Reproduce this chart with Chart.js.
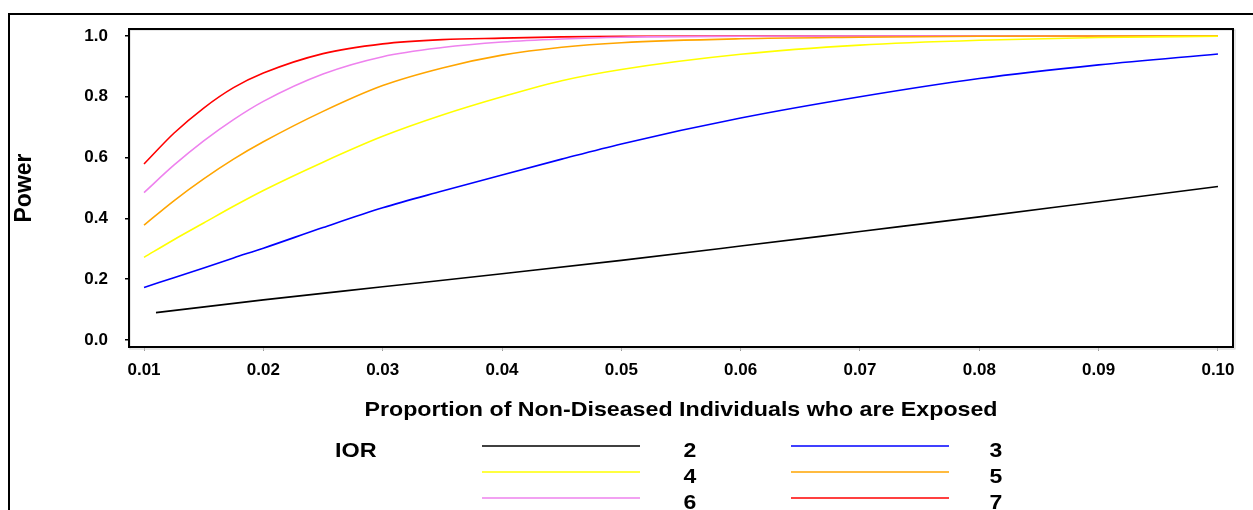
<!DOCTYPE html>
<html>
<head>
<meta charset="utf-8">
<script src="https://cdn.jsdelivr.net/npm/chart.js@4"></script>
<style>
  html, body { margin: 0; padding: 0; background: #fff; }
  canvas { display: block; }
</style>
</head>
<body>
<canvas id="c" width="1253" height="510"></canvas>
<script>
// ---- data ----
const xGrid = [0.01, 0.0125, 0.015, 0.0175, 0.02, 0.025, 0.03, 0.035, 0.04, 0.045, 0.05, 0.06, 0.07, 0.08, 0.09, 0.10];
const ior2X = [0.011, 0.02, 0.03, 0.04, 0.05, 0.06, 0.07, 0.08, 0.09, 0.10];
const ior2 = [0.090, 0.132, 0.175, 0.218, 0.262, 0.309, 0.357, 0.405, 0.455, 0.505];
const ior3 = [0.173, 0.205, 0.237, 0.270, 0.302, 0.370, 0.435, 0.490, 0.543, 0.595, 0.645, 0.730, 0.800, 0.860, 0.905, 0.941];
const ior4 = [0.272, 0.330, 0.385, 0.440, 0.492, 0.585, 0.670, 0.740, 0.800, 0.853, 0.890, 0.940, 0.970, 0.986, 0.995, 0.999];
const ior5 = [0.378, 0.458, 0.530, 0.595, 0.652, 0.752, 0.837, 0.895, 0.937, 0.963, 0.978, 0.991, 0.996, 0.999, 1.000, 1.000];
const ior6 = [0.485, 0.575, 0.655, 0.725, 0.785, 0.875, 0.932, 0.962, 0.980, 0.990, 0.996, 0.999, 1.000, 1.000, 1.000, 1.000];
const ior7 = [0.579, 0.680, 0.763, 0.830, 0.878, 0.942, 0.974, 0.988, 0.993, 0.997, 0.999, 1.000, 1.000, 1.000, 1.000, 1.000];
const seriesNames = ['2', '3', '4', '5', '6', '7'];
const xTickValues = [0.01, 0.02, 0.03, 0.04, 0.05, 0.06, 0.07, 0.08, 0.09, 0.10];
const xTickLabels = ['0.01', '0.02', '0.03', '0.04', '0.05', '0.06', '0.07', '0.08', '0.09', '0.10'];
const yTickValues = [0, 0.2, 0.4, 0.6, 0.8, 1.0];
const yTickLabels = ['0.0', '0.2', '0.4', '0.6', '0.8', '1.0'];
const xTitle = 'Proportion of Non-Diseased Individuals who are Exposed';
const yTitle = 'Power';
const legendTitle = 'IOR';

// ---- styles ----
const colors = ['#000000', '#0000ff', '#ffff00', '#ffa500', '#ee82ee', '#ff0000'];
const FONT = "'Liberation Sans', Arial, sans-serif";

function pts(xs, ys) { return xs.map((x, i) => ({ x: x, y: ys[i] })); }
const seriesData = [pts(ior2X, ior2), pts(xGrid, ior3), pts(xGrid, ior4), pts(xGrid, ior5), pts(xGrid, ior6), pts(xGrid, ior7)];

const datasets = seriesData.map((d, i) => ({
  label: seriesNames[i],
  data: d,
  borderColor: colors[i],
  backgroundColor: colors[i],
  borderWidth: 1.6,
  pointRadius: 0,
  fill: false,
  cubicInterpolationMode: 'monotone'
}));

function stretchedText(ctx, text, x, y, sx) {
  ctx.save();
  ctx.translate(x, y);
  ctx.scale(sx, 1);
  ctx.fillText(text, 0, 0);
  ctx.restore();
}

const decor = {
  id: 'decor',
  afterDraw(chart) {
    const ctx = chart.ctx;
    const a = chart.chartArea;
    ctx.save();
    // outer frame (top and left)
    ctx.strokeStyle = '#000';
    ctx.lineWidth = 2;
    ctx.beginPath();
    ctx.moveTo(9, 520); ctx.lineTo(9, 14); ctx.lineTo(1260, 14);
    ctx.stroke();
    // plot frame
    ctx.strokeStyle = '#cfcfcf';
    ctx.lineWidth = 1;
    ctx.strokeRect(a.left + 1, a.top + 1, a.right - a.left + 1, a.bottom - a.top + 1);
    ctx.strokeStyle = '#000';
    ctx.lineWidth = 2;
    ctx.strokeRect(a.left, a.top, a.right - a.left, a.bottom - a.top);
    // y title
    ctx.fillStyle = '#000';
    ctx.font = 'bold 23px ' + FONT;
    ctx.textAlign = 'center';
    ctx.textBaseline = 'middle';
    ctx.translate(25, 188);
    ctx.rotate(-Math.PI / 2);
    ctx.fillText(yTitle, 0, 0);
    ctx.restore();

    ctx.save();
    ctx.fillStyle = '#000';
    // x title
    ctx.font = 'bold 21px ' + FONT;
    ctx.textAlign = 'center';
    ctx.textBaseline = 'alphabetic';
    stretchedText(ctx, xTitle, 681, 416, 1.105);
    // legend
    ctx.font = 'bold 20px ' + FONT;
    ctx.textAlign = 'left';
    stretchedText(ctx, legendTitle, 335, 457, 1.17);
    const cols = [{ x0: 482, x1: 640, tx: 690 }, { x0: 791, x1: 949, tx: 996 }];
    const rows = [446, 472, 498];
    seriesNames.forEach((name, i) => {
      const c = cols[i % 2];
      const ry = rows[Math.floor(i / 2)];
      ctx.strokeStyle = colors[i];
      ctx.lineWidth = 1.6;
      ctx.beginPath();
      ctx.moveTo(c.x0, ry); ctx.lineTo(c.x1, ry);
      ctx.stroke();
      ctx.fillStyle = '#000';
      ctx.textAlign = 'center';
      stretchedText(ctx, name, c.tx, ry + 11, 1.15);
    });
    ctx.restore();
  }
};

new Chart(document.getElementById('c'), {
  type: 'line',
  data: { datasets: datasets },
  options: {
    responsive: false,
    animation: false,
    devicePixelRatio: 1,
    layout: { padding: { top: 29, right: 20, left: 0, bottom: 0 } },
    plugins: { legend: { display: false }, tooltip: { enabled: false }, title: { display: false } },
    scales: {
      x: {
        type: 'linear',
        min: 0.00874,
        max: 0.10126,
        afterFit(s) { s.height = 163; },
        afterBuildTicks(s) { s.ticks = xTickValues.map(v => ({ value: v })); },
        ticks: {
          callback(v, i) { return xTickLabels[i]; },
          font: { family: FONT, size: 17, weight: 'bold' },
          color: '#000',
          padding: 9,
          maxRotation: 0,
          autoSkip: false
        },
        grid: { drawOnChartArea: false, drawTicks: true, tickLength: 4, color: '#9a9a9a', lineWidth: 1 },
        border: { display: false }
      },
      y: {
        type: 'linear',
        min: -0.023,
        max: 1.023,
        afterFit(s) { s.width = 129; },
        afterBuildTicks(s) { s.ticks = yTickValues.map(v => ({ value: v })); },
        ticks: {
          callback(v, i) { return yTickLabels[i]; },
          font: { family: FONT, size: 17, weight: 'bold' },
          color: '#000',
          padding: 17,
          autoSkip: false
        },
        grid: { drawOnChartArea: false, drawTicks: true, tickLength: 4, color: '#000', lineWidth: 1.5 },
        border: { display: false }
      }
    }
  },
  plugins: [decor]
});
</script>
</body>
</html>
